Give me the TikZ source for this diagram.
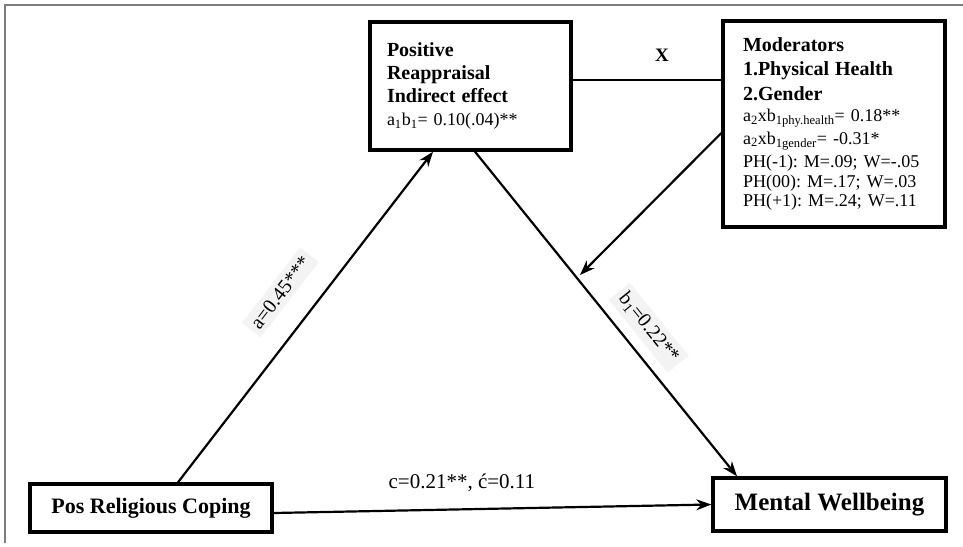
\documentclass[tikz,border=0pt]{standalone}
\usepackage{fontspec}
\setmainfont{Liberation Serif}
\frenchspacing
\usetikzlibrary{shapes,arrows.meta,positioning,calc}
\definecolor{framegray}{RGB}{125,125,125}
\definecolor{labelgray}{RGB}{243,243,243}
\tikzset{
    varbox/.style={draw, line width=3.4pt, inner ysep=0pt, align=left},
    coefflabel/.style={fill=labelgray, inner sep=5pt, sloped, font=\fontsize{20}{24}\selectfont},
    patharrow/.style={line width=2.2pt, -{Stealth[length=15pt,width=11pt]}}
}

\begin{document}
\begin{tikzpicture}[x=1pt, y=-1pt]
    \useasboundingbox (0,0) rectangle (963,546);
    \draw[framegray, line width=1.5pt] (5,543) -- (5,5) -- (963,5);

    \node[varbox, minimum width=201pt, minimum height=128pt, inner xsep=17pt, text width=167pt,
          font=\fontsize{18}{23}\selectfont] (reappr) at (470.5,86)
        {{\bfseries\fontsize{20}{23}\selectfont Positive}\\
         {\bfseries\fontsize{20}{23}\selectfont Reappraisal}\\
         {\bfseries\fontsize{20}{23}\selectfont Indirect effect}\\
         a\textsubscript{1}b\textsubscript{1}= 0.10(.04)**};
    \node[varbox, minimum width=222pt, minimum height=206pt, inner xsep=20pt, text width=182pt,
          font=\fontsize{18}{19.5}\selectfont] (moder) at (834,124)
        {{\bfseries\fontsize{20}{24}\selectfont Moderators}\\[5pt]
         {\bfseries\fontsize{20}{24}\selectfont 1.Physical Health}\\[5pt]
         {\bfseries\fontsize{20}{24}\selectfont 2.Gender}\\[2pt]
         a\textsubscript{2}xb\textsubscript{1phy.health}= 0.18**\\[3pt]
         a\textsubscript{2}xb\textsubscript{1gender}= -0.31*\\[4pt]
         PH(-1): M=.09; W=-.05\\
         PH(00): M=.17; W=.03\\
         PH(+1): M=.24; W=.11};
    \node[varbox, minimum width=242pt, minimum height=48pt, align=center,
          font=\fontsize{22}{26}\selectfont\bfseries] (coping) at (151,508) {Pos Religious Coping};
    \node[varbox, minimum width=233pt, minimum height=53pt, align=center,
          font=\fontsize{25}{30}\selectfont\bfseries] (wellb) at (829.5,504.5) {Mental Wellbeing};
    \coordinate (modtip) at (580,275);

    % paths
    \draw[patharrow] ([xshift=27pt]coping.north) -- node[coefflabel, pos=.51, above=22pt] (alab) {a=0.45***} ([xshift=-37.5pt]reappr.south);
    \draw[patharrow] ([xshift=4.5pt]reappr.south) -- node[coefflabel, pos=.59, above=10pt] (blab) {b\textsubscript{1}=0.22**} ([xshift=-92.5pt]wellb.north);
    \draw[patharrow] ([yshift=-5pt]coping.east) -- node[pos=.43, above=13pt, font=\fontsize{21}{25}\selectfont] (clab) {c=0.21**, ć=0.11} (wellb.west);
    \draw[line width=2.2pt] ([yshift=6pt]reappr.east) -- node[pos=.6, above=14pt, font=\fontsize{19}{23}\selectfont\bfseries] (xlab) {X} ([yshift=44pt]moder.west);
    \draw[patharrow] ([yshift=-9pt]moder.west) -- (modtip);
\end{tikzpicture}
\end{document}
